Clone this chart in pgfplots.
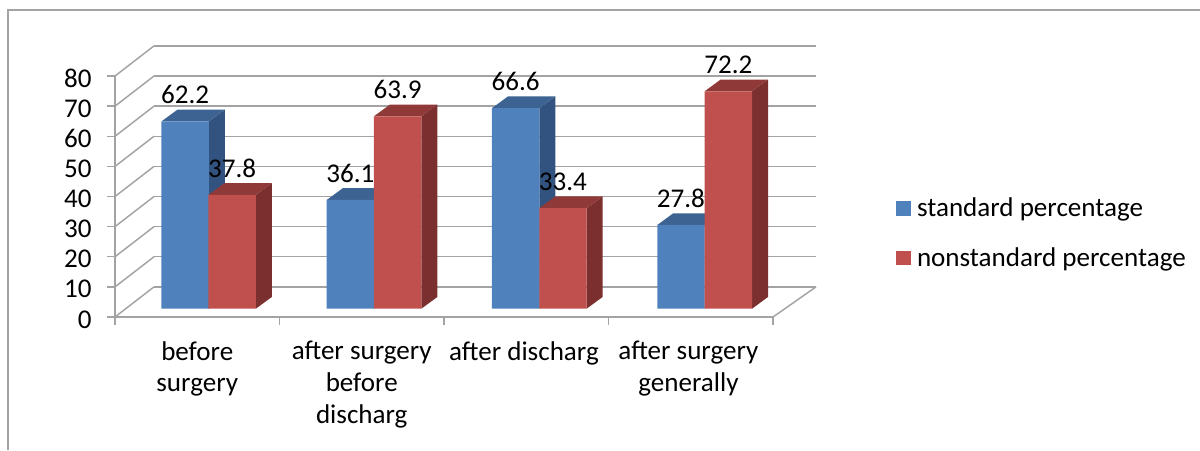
\documentclass[border=0pt]{standalone}
\usepackage{pgfplots}
\pgfplotsset{compat=1.18}
\usepackage{fontspec}
\setmainfont{Carlito}
\definecolor{bfront}{HTML}{4F81BD}
\definecolor{bside}{HTML}{32537F}
\definecolor{btop}{HTML}{3D6392}
\definecolor{rfront}{HTML}{C0504D}
\definecolor{rside}{HTML}{7B2F2E}
\definecolor{rtop}{HTML}{8F3A38}
\definecolor{gridg}{HTML}{A3A3A3}
\newcommand{\depth}[5]{% left x, value, side colour, top colour
  \addplot[forget plot,fill=#3,draw=none,yshift=6.2pt] coordinates {({#1+47.3},0) ({#1+47.3},#2) ({#1+63.3},{#2+3.9}) ({#1+63.3},3.9)} --cycle;
  \addplot[forget plot,fill=#4,draw=none,yshift=6.2pt] coordinates {(#1,#2) ({#1+47.3},#2) ({#1+63.3},{#2+3.9}) ({#1+16},{#2+3.9})} --cycle;
}
\begin{document}
\begin{tikzpicture}[x=1pt,y=1pt]
\useasboundingbox (0,0) rectangle (900,337.5);
\draw[gridg,line width=1.1pt] (6,0) -- (6,330) -- (900,330);
\begin{axis}[
  at={(86.25pt,99.75pt)},anchor=origin,
  scale only axis,clip=false,
  x=0.75pt,y=2.259pt,
  xmin=115,xmax=773,ymin=0,ymax=80,
  axis x line=bottom,axis y line=left,
  axis line style={gridg,line width=1.1pt,-},
  tick style={gridg,line width=1.1pt},
  tick align=outside,major tick length=6pt,
  xtick={115,279.5,444,608.5,773},
  x tick label as interval=true,
  xticklabels={before\\surgery,after surgery\\before\\discharg,after discharg\hspace*{3.5pt},after surgery\hspace*{3.5pt}\\generally\hspace*{3.5pt}},
  xticklabel style={align=center,font=\fontsize{20.3}{23.8}\selectfont,anchor=north,yshift=-8.75pt},
  ytick={0,10,...,80},
  yticklabel style={font=\fontsize{20.3}{24}\selectfont,xshift=-8pt,yshift=-1.8pt},
  /pgf/number format/assume math mode=true,
  /pgf/number format/.cd,fixed,precision=1,1000 sep={},/tikz/.cd,
  legend style={at={(axis cs:896,39.5)},anchor=north west,draw=none,fill=none,inner sep=0pt,outer sep=0pt,
    font=\fontsize{20.3}{24}\selectfont,row sep=21.6pt,nodes={inner sep=0pt,outer sep=0pt}},
  legend cell align=left,
  legend image code/.code={\fill[#1] (0pt,-5.6pt) rectangle (11.25pt,5.6pt);\path (15.75pt,0pt);},
]
% back wall grid lines
\addplot[forget plot,gridg,line width=1.1pt] coordinates {(154,10) (816,10)};
\addplot[forget plot,gridg,line width=1.1pt] coordinates {(154,20) (816,20)};
\addplot[forget plot,gridg,line width=1.1pt] coordinates {(154,30) (816,30)};
\addplot[forget plot,gridg,line width=1.1pt] coordinates {(154,40) (816,40)};
\addplot[forget plot,gridg,line width=1.1pt] coordinates {(154,50) (816,50)};
\addplot[forget plot,gridg,line width=1.1pt] coordinates {(154,60) (816,60)};
\addplot[forget plot,gridg,line width=1.1pt] coordinates {(154,70) (816,70)};
\addplot[forget plot,gridg,line width=1.1pt] coordinates {(154,80) (816,80)};
\addplot[forget plot,gridg,line width=1.1pt] coordinates {(154,90) (816,90)};
% side wall and floor
\addplot[forget plot,gridg,line width=1.1pt] coordinates {(115,0) (154,10)};
\addplot[forget plot,gridg,line width=1.1pt] coordinates {(115,10) (154,20)};
\addplot[forget plot,gridg,line width=1.1pt] coordinates {(115,20) (154,30)};
\addplot[forget plot,gridg,line width=1.1pt] coordinates {(115,30) (154,40)};
\addplot[forget plot,gridg,line width=1.1pt] coordinates {(115,40) (154,50)};
\addplot[forget plot,gridg,line width=1.1pt] coordinates {(115,50) (154,60)};
\addplot[forget plot,gridg,line width=1.1pt] coordinates {(115,60) (154,70)};
\addplot[forget plot,gridg,line width=1.1pt] coordinates {(115,70) (154,80)};
\addplot[forget plot,gridg,line width=1.1pt] coordinates {(115,80) (154,90)};
\addplot[forget plot,gridg,line width=1.1pt] coordinates {(773,0) (816,10)};
% standard percentage
\depth{161.5}{62.2}{bside}{btop}{}
\depth{326.7}{36.1}{bside}{btop}{}
\depth{492.0}{66.6}{bside}{btop}{}
\depth{657.3}{27.8}{bside}{btop}{}
\addplot[forget plot,ybar,bar width=35.5pt,bar shift=0pt,fill=bfront,draw=none,yshift=6.2pt] coordinates {(185.15,62.2) (350.35,36.1) (515.65,66.6) (680.95,27.8)};
% nonstandard percentage
\depth{208.5}{37.8}{rside}{rtop}{}
\depth{374.0}{63.9}{rside}{rtop}{}
\depth{539.3}{33.4}{rside}{rtop}{}
\depth{704.7}{72.2}{rside}{rtop}{}
\addplot[forget plot,ybar,bar width=35.5pt,bar shift=0pt,fill=rfront,draw=none,yshift=6.2pt] coordinates {(232.15,37.8) (397.65,63.9) (562.95,33.4) (728.35,72.2)};
% value labels
\pgfplotsset{every node near coord/.style={anchor=center,yshift=26.2pt,black,font=\fontsize{20.3}{24}\selectfont,inner sep=0pt}}
\addplot[forget plot,draw=none,mark=none,nodes near coords,/pgf/number format/fixed zerofill] coordinates {(185.15,62.2) (350.35,36.1) (515.65,66.6) (680.95,27.8)};
\addplot[forget plot,draw=none,mark=none,nodes near coords,/pgf/number format/fixed zerofill] coordinates {(232.15,37.8) (397.65,63.9) (562.95,33.4) (728.35,72.2)};
\addlegendimage{fill=bfront,draw=none}
\addlegendentry{standard percentage}
\addlegendimage{fill=rfront,draw=none}
\addlegendentry{nonstandard percentage}
\end{axis}
\end{tikzpicture}
\end{document}
